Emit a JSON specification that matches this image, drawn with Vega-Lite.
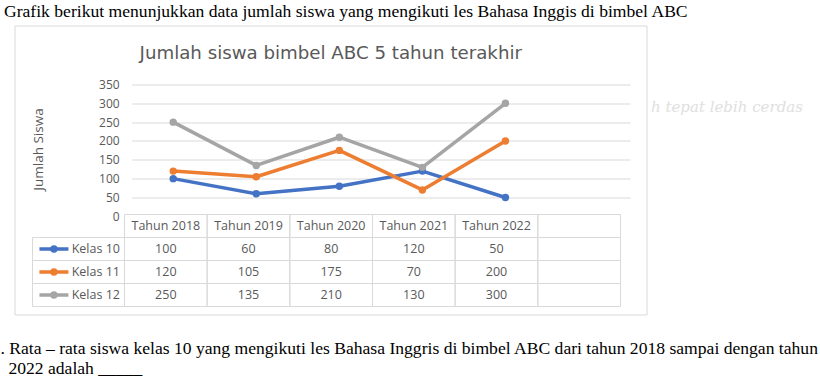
{
  "$schema": "https://vega.github.io/schema/vega-lite/v6.json",
  "width": 632,
  "height": 289,
  "autosize": {"type": "none"},
  "padding": {"left": 14.5, "top": 25.5, "right": 173.5, "bottom": 71.5},
  "background": "white",
  "config": {
    "view": {"stroke": "#d9d9d9", "strokeWidth": 1},
    "font": "Open Sans"
  },
  "title": {
    "text": "Grafik berikut menunjukkan data jumlah siswa yang mengikuti les Bahasa Inggis di bimbel ABC",
    "anchor": "start",
    "frame": "group",
    "dx": -10.5,
    "baseline": "alphabetic",
    "offset": -9.5,
    "font": "Liberation Serif",
    "fontSize": 17.6,
    "fontWeight": "normal",
    "color": "#000000"
  },
  "datasets": {
    "nilai": [
      {"kelas": "Kelas 10", "tahun": "Tahun 2018", "jumlah": 100},
      {"kelas": "Kelas 10", "tahun": "Tahun 2019", "jumlah": 60},
      {"kelas": "Kelas 10", "tahun": "Tahun 2020", "jumlah": 80},
      {"kelas": "Kelas 10", "tahun": "Tahun 2021", "jumlah": 120},
      {"kelas": "Kelas 10", "tahun": "Tahun 2022", "jumlah": 50},
      {"kelas": "Kelas 11", "tahun": "Tahun 2018", "jumlah": 120},
      {"kelas": "Kelas 11", "tahun": "Tahun 2019", "jumlah": 105},
      {"kelas": "Kelas 11", "tahun": "Tahun 2020", "jumlah": 175},
      {"kelas": "Kelas 11", "tahun": "Tahun 2021", "jumlah": 70},
      {"kelas": "Kelas 11", "tahun": "Tahun 2022", "jumlah": 200},
      {"kelas": "Kelas 12", "tahun": "Tahun 2018", "jumlah": 250},
      {"kelas": "Kelas 12", "tahun": "Tahun 2019", "jumlah": 135},
      {"kelas": "Kelas 12", "tahun": "Tahun 2020", "jumlah": 210},
      {"kelas": "Kelas 12", "tahun": "Tahun 2021", "jumlah": 130},
      {"kelas": "Kelas 12", "tahun": "Tahun 2022", "jumlah": 300}
    ],
    "sel": [
      {"kelas": "header", "tahun": "Tahun 2018"},
      {"kelas": "header", "tahun": "Tahun 2019"},
      {"kelas": "header", "tahun": "Tahun 2020"},
      {"kelas": "header", "tahun": "Tahun 2021"},
      {"kelas": "header", "tahun": "Tahun 2022"},
      {"kelas": "header", "tahun": "kosong"},
      {"kelas": "Kelas 10", "tahun": "Tahun 2018"},
      {"kelas": "Kelas 10", "tahun": "Tahun 2019"},
      {"kelas": "Kelas 10", "tahun": "Tahun 2020"},
      {"kelas": "Kelas 10", "tahun": "Tahun 2021"},
      {"kelas": "Kelas 10", "tahun": "Tahun 2022"},
      {"kelas": "Kelas 10", "tahun": "kosong"},
      {"kelas": "Kelas 11", "tahun": "Tahun 2018"},
      {"kelas": "Kelas 11", "tahun": "Tahun 2019"},
      {"kelas": "Kelas 11", "tahun": "Tahun 2020"},
      {"kelas": "Kelas 11", "tahun": "Tahun 2021"},
      {"kelas": "Kelas 11", "tahun": "Tahun 2022"},
      {"kelas": "Kelas 11", "tahun": "kosong"},
      {"kelas": "Kelas 12", "tahun": "Tahun 2018"},
      {"kelas": "Kelas 12", "tahun": "Tahun 2019"},
      {"kelas": "Kelas 12", "tahun": "Tahun 2020"},
      {"kelas": "Kelas 12", "tahun": "Tahun 2021"},
      {"kelas": "Kelas 12", "tahun": "Tahun 2022"},
      {"kelas": "Kelas 12", "tahun": "kosong"}
    ],
    "daftarKelas": [
      {"kelas": "Kelas 10"},
      {"kelas": "Kelas 11"},
      {"kelas": "Kelas 12"}
    ]
  },
  "resolve": {
    "scale": {"x": "independent", "y": "independent"},
    "axis": {"x": "independent", "y": "independent"}
  },
  "layer": [
    {
      "data": {"name": "nilai"},
      "encoding": {
        "x": {
          "field": "tahun", "type": "nominal",
          "scale": {"type": "band", "domain": ["Tahun 2018", "Tahun 2019", "Tahun 2020", "Tahun 2021", "Tahun 2022", "kosong"], "range": [117.2, 615.5], "paddingInner": 0, "paddingOuter": 0},
          "axis": {
            "orient": "top", "labels": false, "ticks": false, "domain": false, "grid": false,
            "title": "Jumlah siswa bimbel ABC 5 tahun terakhir",
            "titleX": 315.75, "titleY": 32.8, "titleAlign": "center", "titleBaseline": "alphabetic", "titleAngle": 0,
            "titleFont": "DejaVu Sans", "titleFontSize": 18.2, "titleFontWeight": "normal", "titleColor": "#595959"
          }
        },
        "y": {
          "field": "jumlah", "type": "quantitative",
          "scale": {"domain": [0, 350], "range": [190.8, 59], "nice": false, "zero": true},
          "axis": {
            "orient": "left", "offset": -117.2, "values": [0, 50, 100, 150, 200, 250, 300, 350],
            "ticks": false, "domain": false, "labelPadding": 12.5,
            "labelFont": "Open Sans", "labelFontSize": 12, "labelColor": "#595959",
            "grid": true, "gridColor": "#d9d9d9", "gridWidth": 1,
            "gridOpacity": {"condition": {"test": "datum.value === 0", "value": 0}, "value": 1},
            "title": "Jumlah Siswa", "titleX": -93.4, "titleY": 123.5, "titleAngle": -90,
            "titleAlign": "center", "titleBaseline": "middle",
            "titleFont": "Open Sans", "titleFontSize": 13.5, "titleFontWeight": "normal", "titleColor": "#595959"
          }
        },
        "color": {
          "field": "kelas", "type": "nominal",
          "scale": {"domain": ["Kelas 10", "Kelas 11", "Kelas 12"], "range": ["#4472C4", "#ED7D31", "#A5A5A5"]},
          "legend": null
        }
      },
      "layer": [
        {"mark": {"type": "line", "strokeWidth": 3.5, "strokeJoin": "round", "strokeCap": "round"}},
        {"mark": {"type": "point", "filled": true, "shape": "circle", "size": 55, "opacity": 1}}
      ]
    },
    {
      "encoding": {
        "x": {
          "field": "tahun", "type": "nominal",
          "scale": {"type": "band", "domain": ["Tahun 2018", "Tahun 2019", "Tahun 2020", "Tahun 2021", "Tahun 2022", "kosong"], "range": [110, 606], "paddingInner": 0, "paddingOuter": 0},
          "axis": {
            "orient": "bottom", "labels": false, "ticks": false, "domain": false, "grid": false,
            "title": [". Rata – rata siswa kelas 10 yang mengikuti les Bahasa Inggris di bimbel ABC dari tahun 2018 sampai dengan tahun", "\u200B\u00a0\u20092022 adalah _____"],
            "titleX": -14.5, "titleY": 38.5, "titleAlign": "left", "titleBaseline": "alphabetic", "titleAngle": 0,
            "titleLineHeight": 20.7,
            "titleFont": "Liberation Serif", "titleFontSize": 17.6, "titleFontWeight": "normal", "titleColor": "#000000"
          }
        },
        "y": {
          "field": "kelas", "type": "nominal",
          "scale": {"type": "band", "domain": ["header", "Kelas 10", "Kelas 11", "Kelas 12"], "range": [189, 281], "paddingInner": 0, "paddingOuter": 0},
          "axis": null
        }
      },
      "layer": [
        {
          "data": {"name": "sel"},
          "mark": {"type": "rect", "fill": "#ffffff", "fillOpacity": 0, "stroke": "#d9d9d9", "strokeWidth": 1}
        },
        {
          "data": {"name": "sel"},
          "transform": [{"filter": "datum.kelas === 'header' && datum.tahun !== 'kosong'"}],
          "mark": {"type": "text", "font": "Open Sans", "fontSize": 12.5, "color": "#595959", "align": "center", "baseline": "middle"},
          "encoding": {"text": {"field": "tahun"}}
        },
        {
          "data": {"name": "nilai"},
          "mark": {"type": "text", "font": "Open Sans", "fontSize": 12.5, "color": "#595959", "align": "center", "baseline": "middle"},
          "encoding": {"text": {"field": "jumlah"}}
        }
      ]
    },
    {
      "data": {"name": "daftarKelas"},
      "encoding": {
        "y": {
          "field": "kelas", "type": "nominal",
          "scale": {"type": "band", "domain": ["header", "Kelas 10", "Kelas 11", "Kelas 12"], "range": [189, 281], "paddingInner": 0, "paddingOuter": 0},
          "axis": {
            "orient": "right", "labels": false, "ticks": false, "domain": false, "grid": false,
            "title": "h tepat lebih cerdas",
            "titleX": 4, "titleY": 86, "titleAngle": 0, "titleAlign": "left", "titleBaseline": "alphabetic",
            "titleFont": "DejaVu Serif", "titleFontStyle": "italic", "titleFontSize": 15, "titleFontWeight": "normal", "titleColor": "#e0e0e0"
          }
        }
      },
      "layer": [
        {
          "mark": {"type": "rect", "fill": "#ffffff", "fillOpacity": 0, "stroke": "#d9d9d9", "strokeWidth": 1},
          "encoding": {
            "x": {"datum": "label", "type": "nominal", "scale": {"type": "band", "domain": ["label"], "range": [18, 110], "paddingInner": 0, "paddingOuter": 0}, "axis": null}
          }
        },
        {
          "mark": {"type": "point", "shape": "M-1,0L1,0", "filled": false, "size": 841, "strokeWidth": 3.5, "opacity": 1},
          "encoding": {
            "x": {"datum": "label", "type": "nominal", "bandPosition": 0.233, "scale": {"type": "band", "domain": ["label"], "range": [18, 110], "paddingInner": 0, "paddingOuter": 0}, "axis": null},
            "color": {"field": "kelas", "type": "nominal", "scale": {"domain": ["Kelas 10", "Kelas 11", "Kelas 12"], "range": ["#4472C4", "#ED7D31", "#A5A5A5"]}, "legend": null}
          }
        },
        {
          "mark": {"type": "point", "shape": "circle", "filled": true, "size": 55, "opacity": 1},
          "encoding": {
            "x": {"datum": "label", "type": "nominal", "bandPosition": 0.233, "scale": {"type": "band", "domain": ["label"], "range": [18, 110], "paddingInner": 0, "paddingOuter": 0}, "axis": null},
            "color": {"field": "kelas", "type": "nominal", "scale": {"domain": ["Kelas 10", "Kelas 11", "Kelas 12"], "range": ["#4472C4", "#ED7D31", "#A5A5A5"]}, "legend": null}
          }
        },
        {
          "mark": {"type": "text", "font": "Open Sans", "fontSize": 12.5, "color": "#595959", "align": "left", "baseline": "middle"},
          "encoding": {
            "x": {"datum": "label", "type": "nominal", "bandPosition": 0.426, "scale": {"type": "band", "domain": ["label"], "range": [18, 110], "paddingInner": 0, "paddingOuter": 0}, "axis": null},
            "text": {"field": "kelas"}
          }
        }
      ]
    }
  ]
}
